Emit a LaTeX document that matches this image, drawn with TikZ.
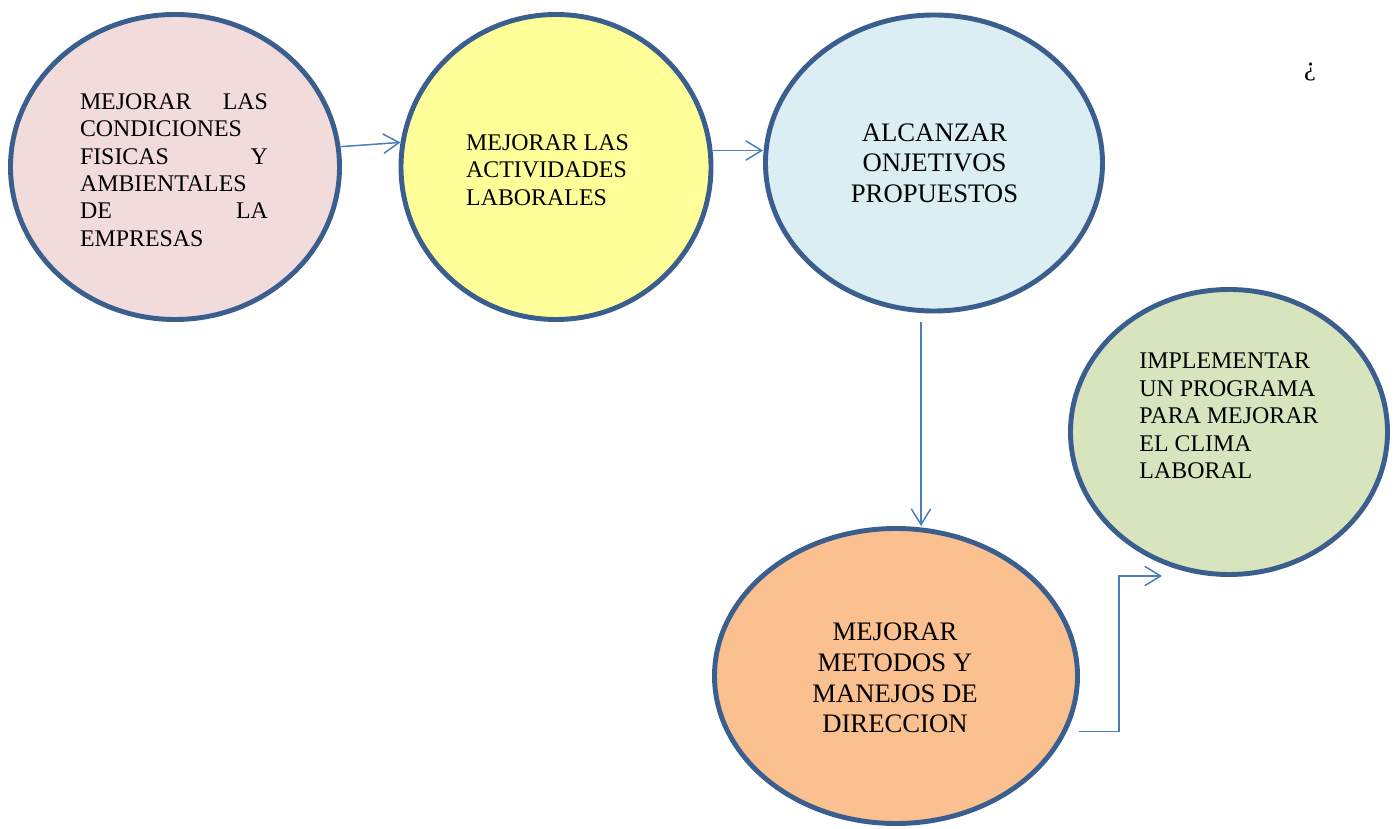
\documentclass[tikz,border=0pt]{standalone}
\usepackage{fontspec}
\setmainfont{Liberation Serif}
\usepackage{tikz}
\usetikzlibrary{positioning,shapes.geometric,arrows.meta}

\definecolor{rimblue}{HTML}{3A5F8E}
\definecolor{linkblue}{HTML}{4A7EBB}
\definecolor{rosefill}{HTML}{F2DCDB}
\definecolor{lemonfill}{HTML}{FFFF99}
\definecolor{skyfill}{HTML}{DBEEF4}
\definecolor{sagefill}{HTML}{D7E4BD}
\definecolor{peachfill}{HTML}{FAC090}

\tikzset{
  bubble/.style={ellipse, draw=rimblue, line width=2.8pt, inner sep=0pt},
  txt/.style={font=\fontsize{13.6}{15.6}\selectfont, inner sep=0pt},
  bigtxt/.style={font=\fontsize{15.2}{17.4}\selectfont, inner sep=0pt},
  conn/.style={draw=linkblue, line width=0.85pt, -{Straight Barb[length=9pt,width=11pt]}}
}

\begin{document}
\begin{tikzpicture}
		\useasboundingbox (0,0) rectangle (27.96,16.56);
		%Ellipses
		\node[bubble, fill=rosefill, minimum width=6.58cm, minimum height=6.1cm] (e1) at (3.50,13.22) {};
		\node[bubble, fill=lemonfill, minimum width=6.2cm, minimum height=6.1cm] (e2) at (11.12,13.22) {};
		\node[bubble, fill=skyfill, minimum width=6.74cm, minimum height=5.92cm] (e3) at (18.68,13.30) {};
		\node[bubble, fill=sagefill, minimum width=6.34cm, minimum height=5.7cm] (e4) at (24.58,7.92) {};
		\node[bubble, fill=peachfill, minimum width=7.26cm, minimum height=5.9cm] (e5) at (17.92,3.04) {};
		%Texts
		\node[txt, text width=3.76cm, align=left] (t1) at (3.48,13.16) {MEJORAR\hfill LAS\\CONDICIONES\\FISICAS\hfill Y\\AMBIENTALES\\DE\hfill LA\\EMPRESAS};
		\node[txt, align=left] (t2) at (10.95,13.16) {MEJORAR LAS\\ACTIVIDADES\\LABORALES};
		\node[bigtxt, align=center] (t3) at (18.69,13.30) {ALCANZAR\\ONJETIVOS\\PROPUESTOS};
		\node[txt, align=left] (t4) at (24.58,8.24) {IMPLEMENTAR\\UN PROGRAMA\\PARA MEJORAR\\EL CLIMA\\LABORAL};
		\node[bigtxt, align=center] (t5) at (17.90,3.00) {MEJORAR\\METODOS Y\\MANEJOS DE\\DIRECCION};
		\node[bigtxt] (q) at (26.20,15.12) {¿};
		%Connectors
		\draw[conn] (e1.7) -- (e2.171);
		\draw[conn] (e2.6) -- (e2.6 -| e3.west);
		\coordinate (v) at ([xshift=-0.26cm,yshift=-0.18cm]e3.south);
		\draw[conn] (v) -- (v |- e5.north);
		\coordinate (m) at ([xshift=0.24cm]e5.-18);
		\coordinate (g) at ([shift={(-1.34,-2.88)}]e4.center);
		\draw[conn] (m) -- ++(0.8,0) |- (g);
\end{tikzpicture}
\end{document}
